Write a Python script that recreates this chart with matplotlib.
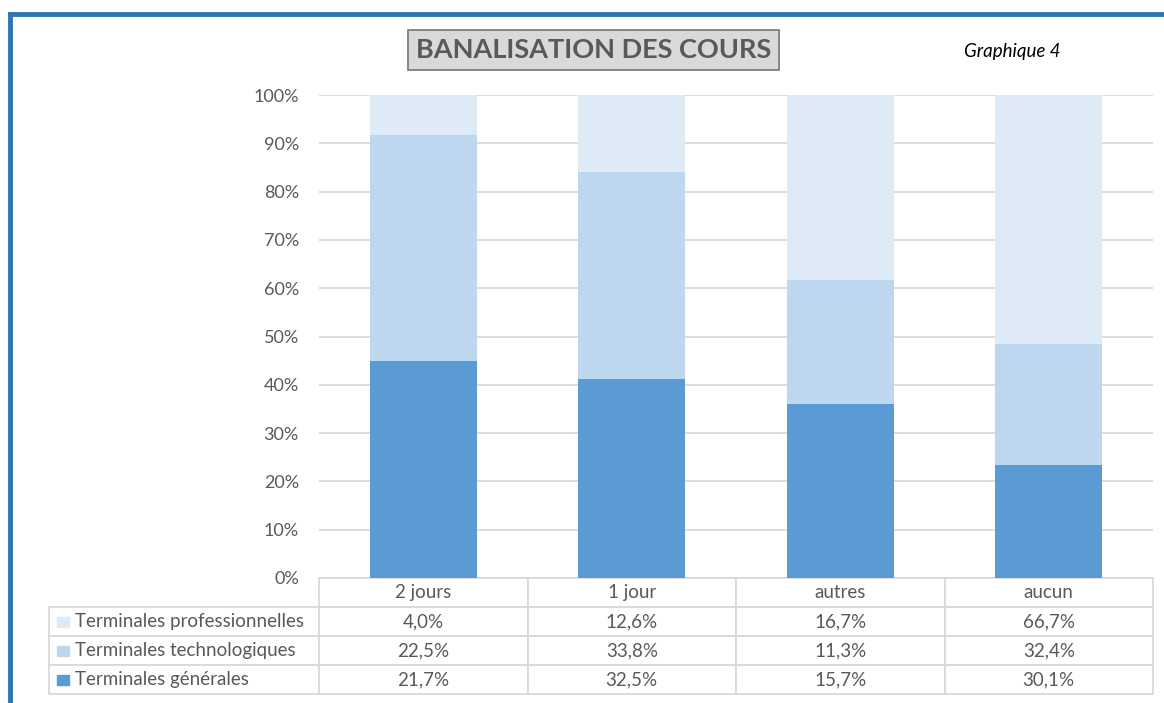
import numpy as np
import matplotlib.pyplot as plt
from matplotlib.patches import Rectangle
from matplotlib.lines import Line2D

categories = ['2 jours', '1 jour', 'autres', 'aucun']
series = ['Terminales professionnelles', 'Terminales technologiques', 'Terminales générales']
pro = [4.0, 12.6, 16.7, 66.7]
techno = [22.5, 33.8, 11.3, 32.4]
gen = [21.7, 32.5, 15.7, 30.1]
colors = ['#deebf7', '#bdd7ee', '#5b9bd5']

plt.rcParams['font.family'] = ['Lato', 'DejaVu Sans']
txt = '#595959'
grid = '#d9d9d9'

fig = plt.figure(figsize=(11.64, 7.03), dpi=100)
W, H = 1164, 703
ax = fig.add_axes([319 / W, 1 - 578 / H, (1153 - 319) / W, (578 - 95) / H])

x = np.arange(len(categories))
tot = np.array(pro) + np.array(techno) + np.array(gen)
g = np.array(gen) / tot * 100
t = np.array(techno) / tot * 100
p = np.array(pro) / tot * 100
ax.bar(x, g, width=0.513, color=colors[2], zorder=2)
ax.bar(x, t, bottom=g, width=0.513, color=colors[1], zorder=2)
ax.bar(x, p, bottom=g + t, width=0.513, color=colors[0], zorder=2)

ax.set_xlim(-0.5, 3.5)
ax.set_ylim(0, 100)
ax.set_yticks(np.arange(0, 101, 10))
ax.set_yticklabels([f'{v}%' for v in range(0, 101, 10)], color=txt, fontsize=13)
ax.tick_params(axis='y', length=0, pad=14.5)
ax.set_xticks([])
ax.grid(axis='y', color=grid, lw=1.3, zorder=0)
for s in ax.spines.values():
    s.set_visible(False)

# data table
rows = [pro, techno, gen]
cell_text = [[series[i]] + [f'{v:.1f}%'.replace('.', ',') for v in rows[i]] for i in range(3)]
x0 = (49 - 319) / 834
tb_h = (694 - 578) / 483
tb = ax.table(cellText=cell_text, colLabels=[''] + categories,
              colWidths=[270 / 1104] + [208.5 / 1104] * 4,
              cellLoc='center', bbox=[x0, -tb_h, 1 - x0, tb_h])
tb.auto_set_font_size(False)
for (r, c), cell in tb.get_celld().items():
    cell.set_edgecolor(grid)
    cell.set_linewidth(1.3)
    cell.get_text().set_color(txt)
    cell.get_text().set_fontsize(13.5)
    if c == 0:
        cell.get_text().set_ha('left')
        cell._loc = 'left'
        cell.PAD = 0.098
    if r == 0 and c == 0:
        cell.visible_edges = ''

# legend keys in table
row_h = tb_h / 4
for i in range(3):
    yc = -row_h * (i + 1.5)
    ax.add_patch(Rectangle((x0 + 8 / 834, yc - 5 / 483), 12 / 834, 10 / 483,
                           transform=ax.transAxes, color=colors[i], clip_on=False))

fig.text(593.5 / W, 1 - 50 / H, 'BANALISATION DES COURS', ha='center', va='center',
         fontsize=19.5, fontweight='bold', color=txt,
         bbox=dict(boxstyle='square,pad=0.3', fc='#d9d9d9', ec='#7f7f7f', lw=1.3))
fig.text(1012 / W, 1 - 52 / H, 'Graphique 4', ha='center', va='center',
         fontsize=13.5, style='italic', color='black')

# blue frame
fig.add_artist(Line2D([10 / W, 10 / W], [0, 1 - 14 / H], color='#2e75b6', lw=3.5))
fig.add_artist(Line2D([10 / W, 1], [1 - 14 / H, 1 - 14 / H], color='#2e75b6', lw=3.5))

fig.savefig('out.png', dpi=100)
